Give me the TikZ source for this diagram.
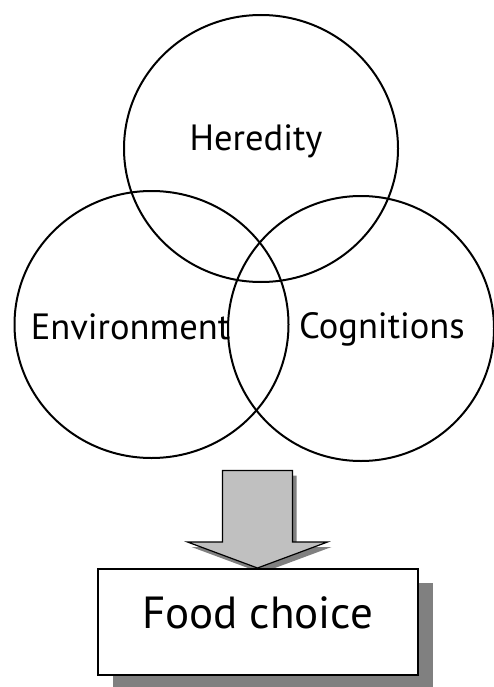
\documentclass[tikz,border=0pt]{standalone}
\usepackage{fontspec}
\setmainfont{PT Sans}
\usetikzlibrary{shapes.geometric}
\usetikzlibrary{shadows}
\definecolor{arrowgray}{RGB}{192,192,192}
\definecolor{shadowgray}{RGB}{128,128,128}

\begin{document}
\begin{tikzpicture}[x=1pt,y=-1pt,
  factor/.style={draw,ellipse,line width=2pt,inner sep=0pt,
    minimum width=274pt,minimum height=267pt},
  factorname/.style={anchor=base,inner sep=0pt,font=\fontsize{36.5}{42}\selectfont}]

\useasboundingbox (0,0) rectangle (494,687);

% the three overlapping factors
\node[factor] (heredity) at (261,148.5) {};
\node[factor] (environment) at (151.5,324.5) {};
\node[factor,minimum width=266pt,minimum height=265pt] (cognitions) at (361,328.5) {};

\node[factorname] (hereditytext) at (256,150) {Heredity};
\node[factorname] (environmenttext) at (130.5,339) {Environment};
\node[factorname] (cognitionstext) at (382,338) {Cognitions};

% block arrow pointing down
\coordinate (tip) at (257.5,568);
\draw[line width=1.2pt,fill=arrowgray,
  drop shadow={shadow xshift=4pt,shadow yshift=-5pt,fill=shadowgray,opacity=1}]
  (222.5,470.5) -- (292.5,470.5) -- (292.5,542) -- (327.5,542) -- (tip)
  -- (187.5,542) -- (222.5,542) -- cycle;

% outcome box
\node[draw,line width=1.5pt,fill=white,minimum width=320pt,minimum height=106pt,
  drop shadow={shadow xshift=15pt,shadow yshift=-14pt,fill=shadowgray,opacity=1}]
  (food) at (258,622) {};
\node[anchor=base,inner sep=0pt,font=\fontsize{45}{52}\selectfont] (foodtext) at (257.5,628) {Food choice};

\end{tikzpicture}
\end{document}
